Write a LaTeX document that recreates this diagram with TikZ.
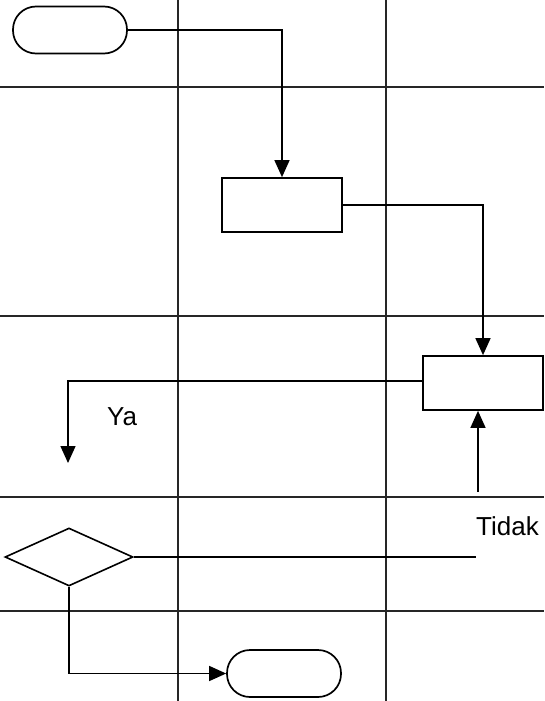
\documentclass[tikz,border=0pt]{standalone}
\usepackage{fontspec}
\setmainfont{Liberation Sans}
\usetikzlibrary{arrows.meta,shapes.geometric}
\begin{document}
\begin{tikzpicture}[x=1pt,y=-1pt,
  grid/.style={line width=1.2pt,black!85},
  conn/.style={line width=1.4pt},
  arr/.style={conn,-{Triangle[length=17pt,width=15pt]}},
  term/.style={draw,line width=1.7pt,rounded corners=23pt,minimum width=114pt,minimum height=47pt,inner sep=0pt},
  proc/.style={draw,line width=1.7pt,minimum width=120pt,minimum height=54pt,inner sep=0pt},
  deci/.style={draw,diamond,line width=1.6pt,minimum width=128pt,minimum height=58pt,inner sep=0pt},
  lbl/.style={font=\fontsize{26pt}{31pt}\selectfont,inner sep=0pt,anchor=base west}
]
\useasboundingbox (0,0) rectangle (544,701);
\fill[white] (0,0) rectangle (544,701);
% lanes
\draw[grid] (178,0) -- (178,701);
\draw[grid] (386,0) -- (386,701);
\draw[grid] (0,87) -- (544,87);
\draw[grid] (0,316) -- (544,316);
\draw[grid] (0,497) -- (544,497);
\draw[grid] (0,611) -- (544,611);
% nodes
\node[term] (start) at (70,30) {};
\node[proc] (p1) at (282,205) {};
\node[proc] (p2) at (483,383) {};
\node[deci] (dec) at (69,557) {};
\node[term] (stop) at (284,673.5) {};
\coordinate (yaend) at (68,463);
\coordinate (tidakstart) at (478,492);
\coordinate (decend) at (476,557);
% labels
\node[lbl] (ya) at (107,425) {Ya};
\node[lbl] (tidak) at (476,535) {Tidak};
% connectors
\draw[arr] (start.east) -| (p1.north);
\draw[arr] (p1.east) -| (p2.north);
\draw[arr] ([yshift=2pt]p2.west) -| (yaend);
\draw[arr] (tidakstart) -- (tidakstart |- p2.south);
\draw[conn] (dec.east) -- (decend);
\draw[arr] (dec.south) |- (stop.west);
\end{tikzpicture}
\end{document}
